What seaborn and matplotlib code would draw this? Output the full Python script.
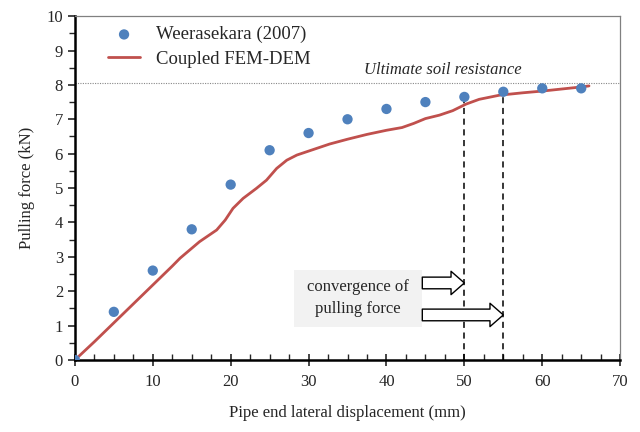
import matplotlib
matplotlib.use("Agg")
import matplotlib.pyplot as plt
import seaborn as sns
import numpy as np
import pandas as pd
from matplotlib.ticker import MultipleLocator
from matplotlib.patches import Rectangle

# Data
exp_x = [0, 5, 10, 15, 20, 25, 30, 35, 40, 45, 50, 55, 60, 65]
exp_y = [0, 1.4, 2.6, 3.8, 5.1, 6.1, 6.6, 7.0, 7.3, 7.5, 7.65, 7.8, 7.9, 7.9]

sim_x = [0, 2.5, 5, 7.5, 10, 12.5, 13.5, 16, 18.2, 19.3, 20.3, 21.6, 23.3, 24.6, 25.9,
         27.2, 28.5, 30.6, 32.7, 35, 37.5, 40, 42, 43.5, 45, 46.8, 48.5, 50.2, 51.9,
         54.5, 57.5, 60, 62.5, 65, 66]
sim_y = [0, 0.53, 1.08, 1.63, 2.18, 2.73, 2.96, 3.44, 3.78, 4.07, 4.41, 4.70, 4.99, 5.23, 5.57,
         5.81, 5.96, 6.12, 6.28, 6.42, 6.56, 6.68, 6.76, 6.88, 7.02, 7.12, 7.25, 7.44, 7.58,
         7.70, 7.77, 7.82, 7.88, 7.94, 7.97]

ultimate = 8.05
conv_x = [50, 55]
conv_y = [7.65, 7.8]

exp_df = pd.DataFrame({"x": exp_x, "y": exp_y})
sim_df = pd.DataFrame({"x": sim_x, "y": sim_y})

sns.set_theme(style="white")
plt.rcParams["font.family"] = ["Liberation Serif", "DejaVu Serif"]
plt.rcParams["mathtext.fontset"] = "stix"

fig = plt.figure(figsize=(6.4, 4.32), dpi=100)
ax = fig.add_axes([0.117, 0.1667, 0.852, 0.796])

blue = "#4F81BD"
red = "#C0504D"

sns.lineplot(data=sim_df, x="x", y="y", ax=ax, color=red, linewidth=2,
             label="Coupled FEM-DEM", zorder=3, solid_joinstyle="round", solid_capstyle="round")
sns.scatterplot(data=exp_df, x="x", y="y", ax=ax, color=blue, s=55,
                edgecolor="none", label="Weerasekara (2007)", zorder=4)

ax.axhline(ultimate, color="#888888", linestyle=(0, (1, 1.2)), linewidth=0.8, zorder=1)
ax.text(47.2, ultimate + 0.15, "Ultimate soil resistance", style="italic",
        ha="center", va="bottom", fontsize=12)

ax.vlines(conv_x, [0, 0], conv_y, colors="black", linestyles=(0, (4, 3)), linewidth=1.1, zorder=2)

ax.add_patch(Rectangle((28.1, 0.96), 16.4, 1.66, facecolor="#f2f2f2", edgecolor="none", zorder=2))
ax.text(36.3, 1.8, "convergence of\npulling force", ha="center", va="center",
        fontsize=12, linespacing=1.5, zorder=3)

arrow_style = "simple,head_width=1.4,head_length=0.8,tail_width=0.7"
ax.annotate("", xy=(50, 2.24), xytext=(44.6, 2.24),
            arrowprops=dict(arrowstyle=arrow_style, fc="white", ec="black", lw=1, shrinkA=0, shrinkB=0), zorder=3)
ax.annotate("", xy=(55, 1.31), xytext=(44.6, 1.31),
            arrowprops=dict(arrowstyle=arrow_style, fc="white", ec="black", lw=1, shrinkA=0, shrinkB=0), zorder=3)

ax.set_xlim(0, 70)
ax.set_ylim(0, 10)
ax.xaxis.set_major_locator(MultipleLocator(10))
ax.xaxis.set_minor_locator(MultipleLocator(2.5))
ax.yaxis.set_major_locator(MultipleLocator(1))
ax.yaxis.set_minor_locator(MultipleLocator(0.5))

ax.tick_params(axis="x", which="major", direction="inout", length=8, width=1.2, labelsize=12, pad=6, bottom=True)
ax.tick_params(axis="x", which="minor", direction="in", length=4, width=1.0, bottom=True)
ax.tick_params(axis="y", which="major", direction="out", length=5, width=1.2, labelsize=12, left=True)
ax.tick_params(axis="y", which="minor", direction="out", length=4, width=1.0, left=True)

for s in ["left", "bottom"]:
    ax.spines[s].set_color("black")
    ax.spines[s].set_linewidth(1.8)
for s in ["top", "right"]:
    ax.spines[s].set_color("#808080")
    ax.spines[s].set_linewidth(0.9)

ax.set_xlabel("Pipe end lateral displacement (mm)", fontsize=12, labelpad=11)
ax.set_ylabel("Pulling force (kN)", fontsize=12, labelpad=8)

handles, labels = ax.get_legend_handles_labels()
order = [labels.index("Weerasekara (2007)"), labels.index("Coupled FEM-DEM")]
ax.legend([handles[i] for i in order], [labels[i] for i in order], loc="upper left",
          bbox_to_anchor=(0.03, 1.02), frameon=False, fontsize=13.5, handlelength=1.7,
          handletextpad=0.85, labelspacing=0.38)

fig.savefig("out.png", dpi=100)
